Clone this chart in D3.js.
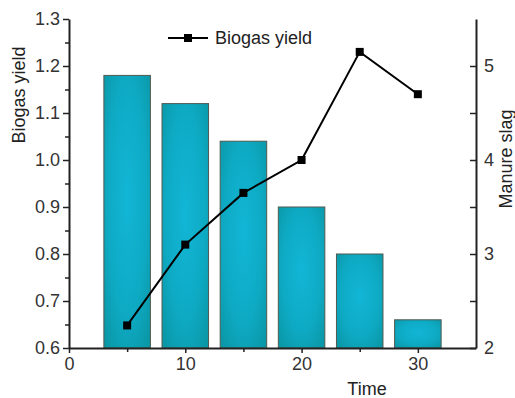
<!DOCTYPE html>
<html>
<head>
<meta charset="utf-8">
<script src="https://cdn.jsdelivr.net/npm/d3@7"></script>
<style>
body { margin: 0; background: #fff; }
svg { display: block; font-family: "Liberation Sans", Arial, sans-serif; }
.axis path, .axis line { stroke: #222; }
.axis text { fill: #333; font-size: 18px; }
</style>
</head>
<body>
<div id="graphic"></div>
<script>
// data
var times = [5, 10, 15, 20, 25, 30];
var barValues = [1.18, 1.12, 1.04, 0.90, 0.80, 0.66]; // left axis
var lineValues = [2.24, 3.1, 3.65, 4.0, 5.15, 4.7]; // right axis
var xTicks = [0, 10, 20, 30];
var yLeftTicks = [0.6, 0.7, 0.8, 0.9, 1.0, 1.1, 1.2, 1.3];
var yRightTicks = [2, 3, 4, 5];

var width = 515, height = 398;
var margin = { top: 19, right: 39, bottom: 50, left: 69 };
var w = width - margin.left - margin.right;
var h = height - margin.top - margin.bottom;

var svg = d3.select("#graphic").append("svg")
	.attr("width", width)
	.attr("height", height);

var defs = svg.append("defs");
var grad = defs.append("radialGradient")
	.attr("id", "barfill")
	.attr("cx", "50%").attr("cy", "45%").attr("r", "70%");
grad.append("stop").attr("offset", "0%").attr("stop-color", "#12b6d6");
grad.append("stop").attr("offset", "60%").attr("stop-color", "#0eaac4");
grad.append("stop").attr("offset", "100%").attr("stop-color", "#0a97a6");

var g = svg.append("g")
	.attr("transform", "translate(" + margin.left + "," + margin.top + ")");

var x = d3.scaleLinear().domain([0, 35]).range([0, w]);
var yL = d3.scaleLinear().domain([0.6, 1.3]).range([h, 0]);
var yR = d3.scaleLinear().domain([2, 5.5]).range([h, 0]);

var barW = x(4) - x(0);

// bars
g.selectAll(".bar")
	.data(times)
	.enter()
	.append("rect")
	.attr("class", "bar")
	.attr("x", function(d) { return x(d) - barW / 2; })
	.attr("width", barW)
	.attr("y", function(d, i) { return yL(barValues[i]); })
	.attr("height", function(d, i) { return h - yL(barValues[i]); })
	.attr("fill", "url(#barfill)")
	.attr("stroke", "#4f5a50")
	.attr("stroke-width", 1);

// minor ticks
g.append("g").attr("class", "axis")
	.attr("transform", "translate(0," + h + ")")
	.call(d3.axisBottom(x).tickValues([5, 15, 25]).tickSize(4).tickFormat(""))
	.select(".domain").remove();
g.append("g").attr("class", "axis")
	.call(d3.axisLeft(yL).tickValues([0.65, 0.75, 0.85, 0.95, 1.05, 1.15, 1.25]).tickSize(4).tickFormat(""))
	.select(".domain").remove();
g.append("g").attr("class", "axis")
	.attr("transform", "translate(" + w + ",0)")
	.call(d3.axisRight(yR).tickValues([2.5, 3.5, 4.5]).tickSize(-6).tickFormat(""))
	.select(".domain").remove();

// major axes
var xAxis = g.append("g").attr("class", "axis")
	.attr("transform", "translate(0," + h + ")")
	.call(d3.axisBottom(x).tickValues(xTicks).tickSize(5).tickSizeOuter(0).tickPadding(4));
var yAxisL = g.append("g").attr("class", "axis")
	.call(d3.axisLeft(yL).tickValues(yLeftTicks).tickFormat(d3.format(".1f")).tickSize(6).tickSizeOuter(0).tickPadding(3));
var yAxisR = g.append("g").attr("class", "axis")
	.attr("transform", "translate(" + w + ",0)")
	.call(d3.axisRight(yR).tickValues(yRightTicks).tickFormat(d3.format("d")).tickSize(-6).tickSizeOuter(0).tickPadding(3));
yAxisR.selectAll(".tick text").attr("x", 8);

g.selectAll(".axis .domain").attr("stroke-width", 2);
g.selectAll(".axis .tick line").attr("stroke-width", 1.5);

// line
var line = d3.line()
	.x(function(d, i) { return x(times[i]); })
	.y(function(d) { return yR(d); });

g.append("path")
	.datum(lineValues)
	.attr("d", line)
	.attr("fill", "none")
	.attr("stroke", "#000")
	.attr("stroke-width", 2);

g.selectAll(".pt")
	.data(lineValues)
	.enter()
	.append("rect")
	.attr("class", "pt")
	.attr("x", function(d, i) { return x(times[i]) - 4; })
	.attr("y", function(d) { return yR(d) - 4; })
	.attr("width", 8)
	.attr("height", 8)
	.attr("fill", "#000");

// legend
var leg = svg.append("g").attr("transform", "translate(168,38)");
leg.append("line").attr("x1", 0).attr("x2", 40).attr("y1", 0).attr("y2", 0)
	.attr("stroke", "#000").attr("stroke-width", 2);
leg.append("rect").attr("x", 16).attr("y", -4).attr("width", 8).attr("height", 8).attr("fill", "#000");
leg.append("text").attr("x", 47).attr("y", 6)
	.style("font-size", "18px").style("fill", "#222")
	.text("Biogas yield");

// axis titles
svg.append("text")
	.attr("transform", "translate(25,95) rotate(-90)")
	.attr("text-anchor", "middle")
	.style("font-size", "18px").style("fill", "#222")
	.text("Biogas yield");
svg.append("text")
	.attr("transform", "translate(512,159) rotate(-90)")
	.attr("text-anchor", "middle")
	.style("font-size", "18px").style("fill", "#222")
	.text("Manure slag");
svg.append("text")
	.attr("x", 367).attr("y", 395)
	.attr("text-anchor", "middle")
	.style("font-size", "18px").style("fill", "#222")
	.text("Time");
</script>
</body>
</html>
